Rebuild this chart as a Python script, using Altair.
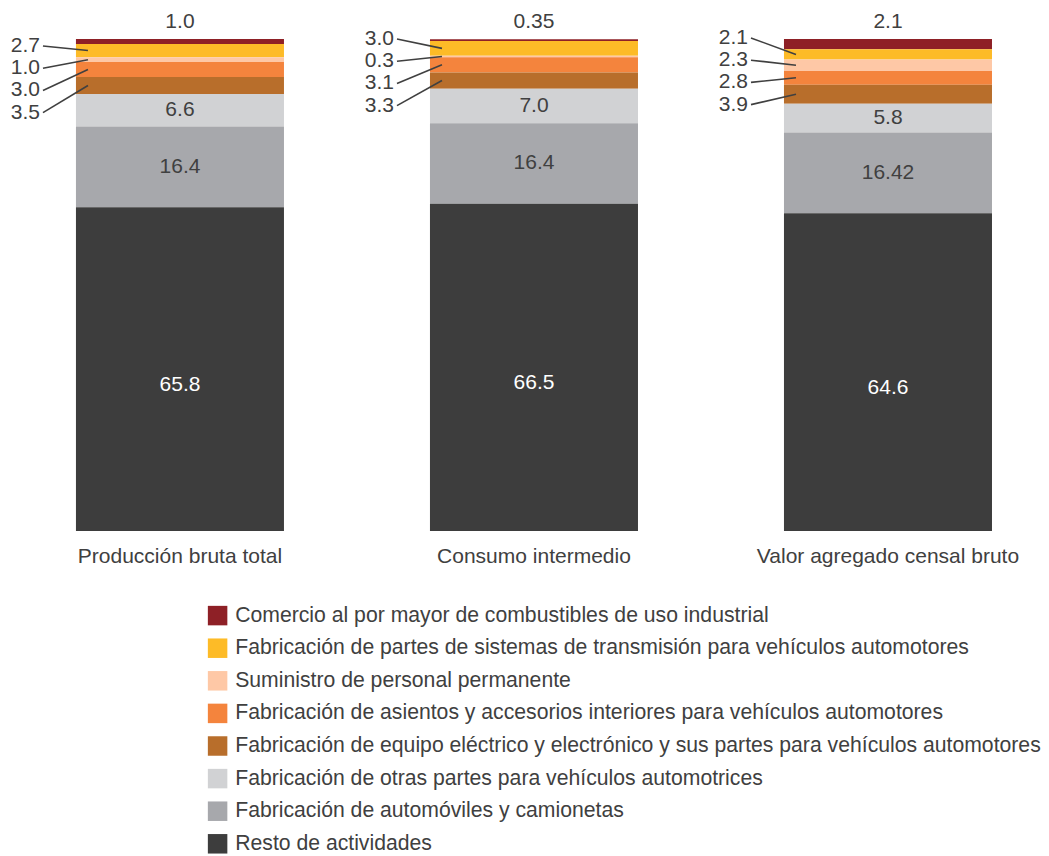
import altair as alt
import pandas as pd

CATEGORIES = ["Producción bruta total", "Consumo intermedio", "Valor agregado censal bruto"]

SERIES = [
    "Comercio al por mayor de combustibles de uso industrial",
    "Fabricación de partes de sistemas de transmisión para vehículos automotores",
    "Suministro de personal permanente",
    "Fabricación de asientos y accesorios interiores para vehículos automotores",
    "Fabricación de equipo eléctrico y electrónico y sus partes para vehículos automotores",
    "Fabricación de otras partes para vehículos automotrices",
    "Fabricación de automóviles y camionetas",
    "Resto de actividades",
]

COLORS = ["#8e2026", "#fdbb27", "#fec8a6", "#f4843d", "#b86e2b", "#d1d2d4", "#a7a8ac", "#3d3d3d"]

comercio = [1.0, 0.35, 2.1]
transmision = [2.7, 3.0, 2.1]
suministro = [1.0, 0.3, 2.3]
asientos = [3.0, 3.1, 2.8]
electrico = [3.5, 3.3, 3.9]
otras = [6.6, 7.0, 5.8]
automoviles = [16.4, 16.4, 16.42]
resto = [65.8, 66.5, 64.6]

SERIES_VALUES = [comercio, transmision, suministro, asientos, electrico, otras, automoviles, resto]

# layout constants
PLOT_H = 492
PX_PER_UNIT = PLOT_H / 100.0
LEFT_LABEL_START = {CATEGORIES[0]: 7, CATEGORIES[1]: 0, CATEGORIES[2]: -1}
LEFT_LABEL_STEP = 22.2
INSIDE = SERIES[5:7]
BOTTOM = SERIES[7]
LEFT = SERIES[1:5]
TOP = SERIES[0]
FS = 21

rows = []
for s_idx, (s, vals) in enumerate(zip(SERIES, SERIES_VALUES)):
    for c, v in zip(CATEGORIES, vals):
        row = dict(cat=c, series=s, value=v, rank=len(SERIES) - 1 - s_idx, label=str(v))
        if s in LEFT:
            i = LEFT.index(s)
            row["ylab"] = 100 - (LEFT_LABEL_START[c] + LEFT_LABEL_STEP * i) / PX_PER_UNIT
        rows.append(row)
df = pd.DataFrame(rows)

FONT = "Liberation Sans"
TXT = "#404040"

base = alt.Chart(df).transform_stack(
    stack="value", groupby=["cat"], as_=["y0", "y1"], sort=[alt.SortField("rank")]
).transform_calculate(mid="(datum.y0 + datum.y1) / 2")

xenc = alt.X(
    "cat:N",
    sort=CATEGORIES,
    scale=alt.Scale(paddingInner=0.4124, paddingOuter=0.1652, align=0.581),
    axis=alt.Axis(title=None, labelAngle=0, domain=False, ticks=False, labelFontSize=FS,
                  labelColor=TXT, labelFont=FONT, labelPadding=25, labelBaseline="middle",
                  labelLimit=1000),
)
yscale = alt.Scale(domain=[0, 100], nice=False)
xs = alt.X("cat:N", sort=CATEGORIES)

bars = base.mark_bar().encode(
    x=xenc,
    y=alt.Y("y0:Q", scale=yscale, axis=None),
    y2="y1:Q",
    color=alt.Color(
        "series:N",
        scale=alt.Scale(domain=SERIES, range=COLORS),
        legend=alt.Legend(
            title=None, orient="none", legendX=199, legendY=566, direction="vertical",
            symbolType="square", symbolSize=380, symbolStrokeWidth=0, symbolOpacity=1,
            labelFontSize=21.2, labelFont=FONT, labelColor=TXT, labelOffset=7,
            rowPadding=10.6, labelLimit=1000,
        ),
    ),
)

inside = base.transform_filter(
    alt.FieldOneOfPredicate(field="series", oneOf=INSIDE)
).mark_text(fontSize=FS, font=FONT, baseline="middle", color=TXT).encode(
    x=xs, y=alt.Y("mid:Q"), text="label:N",
)

bottom = base.transform_filter(alt.datum.series == BOTTOM).mark_text(
    fontSize=FS, font=FONT, baseline="middle", color="white", yOffset=16
).encode(x=xs, y=alt.Y("mid:Q"), text="label:N")

top = base.transform_filter(alt.datum.series == TOP).mark_text(
    fontSize=FS, font=FONT, baseline="middle", yOffset=-17, color=TXT
).encode(x=xs, y=alt.Y("y1:Q"), text="label:N")

left = base.transform_filter(
    alt.FieldOneOfPredicate(field="series", oneOf=LEFT)
).mark_text(fontSize=FS, font=FONT, baseline="middle", align="right", xOffset=-140, color=TXT).encode(
    x=xs, y=alt.Y("ylab:Q"), text="label:N",
)

leaders = base.transform_filter(
    alt.FieldOneOfPredicate(field="series", oneOf=LEFT)
).mark_rule(xOffset=-137, x2Offset=-92, color=TXT, strokeWidth=1.6).encode(
    x=xs, x2="cat:N", y=alt.Y("ylab:Q"), y2="mid:Q",
)

chart = alt.layer(bars, inside, bottom, top, left, leaders).properties(
    width=1033, height=PLOT_H,
    padding={"left": 0, "top": 31, "right": 0, "bottom": 325},
    autosize=alt.AutoSizeParams(type="none"),
).configure(font=FONT).configure_view(stroke=None)

chart.save("out.html", embed_options={"renderer": "svg", "actions": False})
